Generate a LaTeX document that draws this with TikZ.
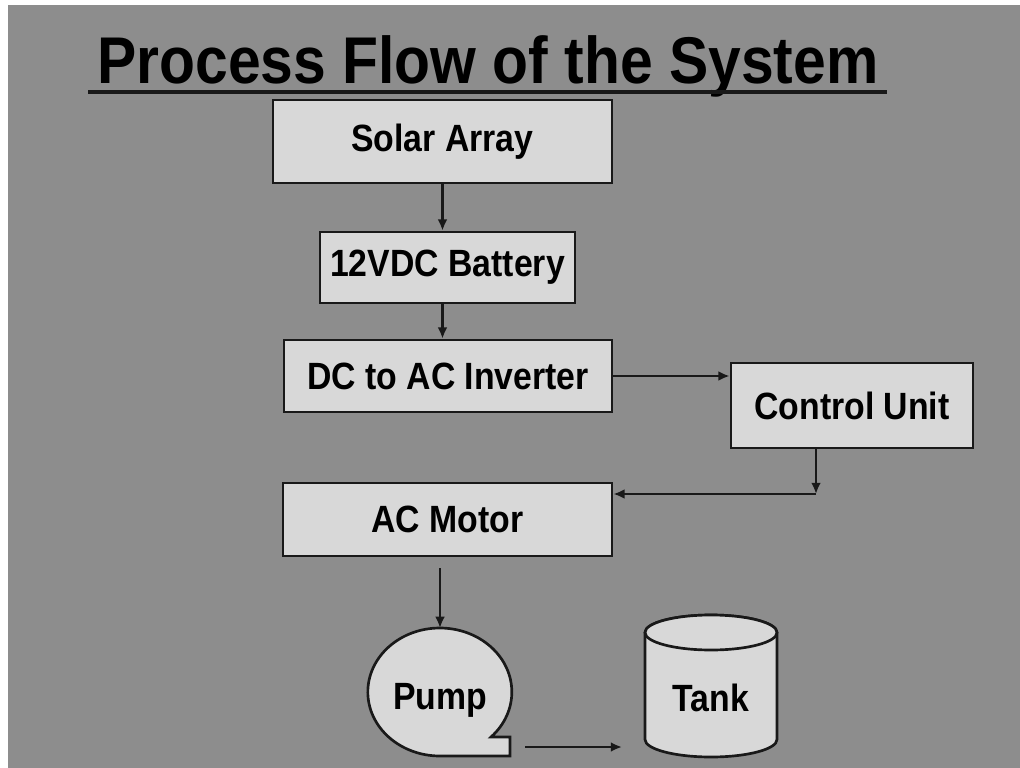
\documentclass[tikz,border=0pt]{standalone}
\usepackage{fontspec}
\setmainfont{Liberation Sans}[FakeStretch=0.89]
\usepackage{tikz}
\usetikzlibrary{arrows.meta, positioning, shapes.geometric, calc}

\definecolor{slidegray}{RGB}{141,141,141}
\definecolor{boxgray}{RGB}{216,216,216}

\begin{document}
\begin{tikzpicture}[
    x=0.025cm, y=0.025cm,
    block/.style={rectangle, draw=black!90, fill=boxgray, line width=1.9pt,
      font=\fontsize{27}{30}\selectfont\bfseries, inner sep=0pt},
    shapeline/.style={draw=black!90, fill=boxgray, line width=1.9pt},
    txt/.style={font=\fontsize{27}{30}\selectfont\bfseries, inner sep=0pt},
    flow/.style={->, line width=1.9pt, draw=black!90},
    >={Latex[length=8pt, width=7pt]}]

% Slide background
\useasboundingbox (0,0) rectangle (1020,-768);
\fill[white] (0,0) rectangle (1020,-768);
\fill[slidegray] (8,-5) rectangle (1020,-768);

% Title
\node[font=\fontsize{47}{52}\selectfont\bfseries, anchor=base, inner sep=0pt]
  (title) at (488,-84) {Process Flow of the System};
\draw[line width=2.4pt, black!90] (88,-92) -- (887,-92);

% Chain of boxes
\node[block, minimum width=8.475cm, minimum height=2.075cm] (solar) at (442.5,-141.5) {Solar Array};
\node[block, minimum width=6.375cm, minimum height=1.775cm] (battery) at (447.5,-267.5) {12VDC Battery};
\node[block, minimum width=8.2cm, minimum height=1.8cm] (inverter) at (448,-376) {DC to AC Inverter};
\node[block, minimum width=6.05cm, minimum height=2.125cm] (control) at (852,-405.5) {Control Unit};
\node[block, minimum width=8.225cm, minimum height=1.825cm] (motor) at (447.5,-519.5) {AC Motor};

% Pump and tank
\node[ellipse, minimum width=3.6cm, minimum height=3.2cm, inner sep=0pt, outer sep=0pt] (pump) at (440,-692) {};
\draw[shapeline] (pump.south) -- ++(70,0) -- ++(0,19) -- ++(-19,0)
  arc[start angle=-44.7, end angle=270, x radius=72, y radius=64] -- cycle;
\node[txt] (pumplabel) at (440,-700) {Pump};

\draw[shapeline] (645,-632.5) -- (645,-739.5)
  arc[start angle=180, end angle=360, x radius=66, y radius=17.5]
  -- (777,-632.5) arc[start angle=0, end angle=180, x radius=66, y radius=17.5] -- cycle;
\draw[shapeline] (711,-632.5) ellipse[x radius=66, y radius=17.5];
\node[txt] (tank) at (711,-698) {Tank};

% Connectors
\coordinate (bend) at (816,-494);
\coordinate (pumpout) at (525,-747);
\coordinate (tankin) at (622,-747);
\draw[flow] (solar.south) -- (solar.south |- battery.north);
\draw[flow] (solar.south |- battery.south) -- (solar.south |- inverter.north);
\draw[flow] (inverter.east) -- (inverter.east -| control.west);
\draw[flow] (control.south -| bend) -- (bend);
\draw[flow] (bend) -- (motor.east |- bend);
\draw[flow] ($(motor.south -| pump.north)+(0,-11)$) -- (pump.north);
\draw[flow] (pumpout) -- (tankin);
\end{tikzpicture}
\end{document}
